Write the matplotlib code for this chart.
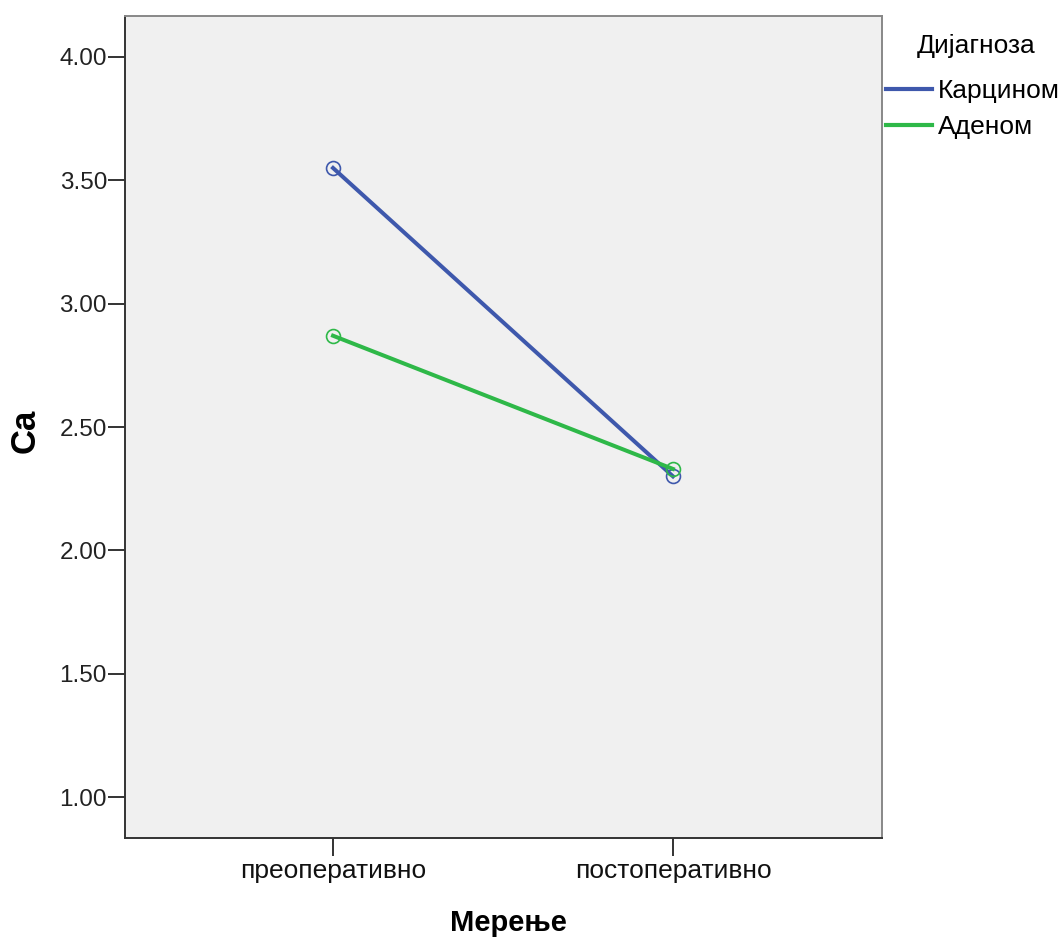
import matplotlib
matplotlib.use("Agg")
import matplotlib.pyplot as plt

plt.rcParams['font.family'] = ['Liberation Sans', 'DejaVu Sans']

# Data
measurements = ["преоперативно", "постоперативно"]
groups = ["Карцином", "Аденом"]
carcinoma = [3.55, 2.30]
adenoma = [2.87, 2.33]
colors = ["#3E58AC", "#2EB848"]
y_ticks = [1.0, 1.5, 2.0, 2.5, 3.0, 3.5, 4.0]

fig = plt.figure(figsize=(10.6, 9.38), dpi=100)
ax = fig.add_axes([125 / 1060, 1 - 838 / 938, 757 / 1060, 822 / 938])
ax.set_facecolor("#F0F0F0")

x = list(range(len(measurements)))
for vals, name, col in zip([carcinoma, adenoma], groups, colors):
    ax.plot(x, vals, color=col, lw=2.9, marker="o", markersize=10,
            markerfacecolor="none", markeredgecolor=col, markeredgewidth=1.2,
            label=name)

ax.set_xlim(-0.612, 1.615)
ax.set_ylim(0.834, 4.166)
ax.set_xticks(x)
ax.set_xticklabels(measurements)
ax.set_yticks(y_ticks)
ax.set_yticklabels([f"{v:.2f}" for v in y_ticks])

for s in ax.spines.values():
    s.set_color("#333333")
    s.set_linewidth(1.4)
ax.spines["top"].set_color("#888888")
ax.spines["right"].set_color("#888888")

ax.tick_params(axis="y", direction="out", length=12, width=1.4, color="#333333",
               labelsize=17.5, pad=1, labelcolor="#222222")
ax.tick_params(axis="x", direction="out", length=13, width=1.4, color="#333333",
               labelsize=19, pad=2, labelcolor="#111111")

ax.set_ylabel("Ca", fontsize=25, fontweight="bold")
ax.yaxis.set_label_coords(-0.11, 0.495)
ax.set_xlabel("Мерење", fontsize=21, fontweight="bold")
ax.xaxis.set_label_coords(0.507, -0.086)

# legend title drawn separately so the gap to the entries matches
fig.text(976 / 1060, 1 - 53 / 938, "Дијагноза", fontsize=19,
         ha="center", va="baseline")
leg = ax.legend(loc="upper left",
                bbox_to_anchor=(886 / 1060, 1 - 79 / 938),
                bbox_transform=fig.transFigure, frameon=False,
                fontsize=19, handlelength=1.75,
                handletextpad=0.2, labelspacing=0.45, borderpad=0,
                borderaxespad=0)
for line in leg.get_lines():
    line.set_marker("")
    line.set_linewidth(3)

fig.savefig("out.png", dpi=100)
